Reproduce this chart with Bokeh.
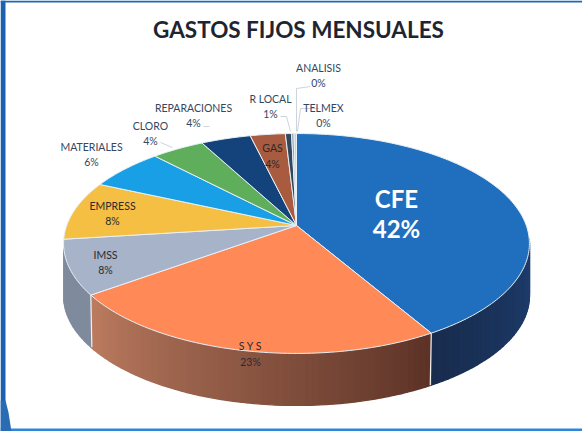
import math
from bokeh.plotting import figure
from bokeh.models import Range1d
from bokeh.core.properties import value
from bokeh.embed import file_html
from bokeh.resources import INLINE

# ---- data (clockwise from 12 o'clock)
categories = ["CFE", "S Y S", "IMSS", "EMPRESS", "MATERIALES", "CLORO",
              "REPARACIONES", "GAS", "R LOCAL", "ANALISIS", "TELMEX"]
shares = [41.6, 23.4, 8.0, 8.7, 6.2, 4.3, 4.05, 2.85, 0.5, 0.2, 0.2]
pct_labels = ["42%", "23%", "8%", "8%", "6%", "4%", "4%", "4%", "1%", "0%", "0%"]
title_text = "GASTOS FIJOS MENSUALES"

# ---- styles
top_colors = ["#1F6FBE", "#FF8A58", "#A6B3C8", "#F4BF42", "#189FE6", "#5FAE5C",
              "#14437C", "#A85B3E", "#33475C", "#8FA3B5", "#C9D3DC"]
side_from = ["#1E3F70", "#BC7C60", "#7F8B9D", "#B08A30", "#127AAF", "#47844A",
             "#0F3260", "#7E442E", "#263645", "#6C7B89", "#98A0A6"]
side_to = ["#182C4E", "#5C3226", "#7F8B9D", "#B08A30", "#127AAF", "#47844A",
           "#0F3260", "#7E442E", "#263645", "#6C7B89", "#98A0A6"]
CX, CY, A, B, K, DEPTH = 296.0, 225.0, 229.8, 107.0, 0.1635, 52.0


def project(theta_deg, r=1.0):
    t = math.radians(theta_deg)
    u, v = r * math.sin(t), r * math.cos(t)
    w = 1 + K * v
    return CX + A * u / w, CY - B * v / w


def mix(c1, c2, f):
    a = [int(c1[i:i + 2], 16) for i in (1, 3, 5)]
    b = [int(c2[i:i + 2], 16) for i in (1, 3, 5)]
    return "#%02x%02x%02x" % tuple(round(a[i] + (b[i] - a[i]) * f) for i in range(3))


p = figure(width=582, height=431, output_backend="svg", toolbar_location=None,
           x_range=Range1d(0, 582), y_range=Range1d(431, 0),
           min_border=0, outline_line_color=None)
p.axis.visible = False
p.grid.visible = False
p.background_fill_color = "white"
p.border_fill_color = "white"

# slide frame
p.quad(left=[0], right=[5], top=[0], bottom=[431], fill_color="#1A62B0", line_color=None)
p.quad(left=[0], right=[582], top=[0], bottom=[2], fill_color="#1A68B8", line_color=None)
p.quad(left=[0], right=[582], top=[428], bottom=[431], fill_color="#2E86DC", line_color=None)
p.patch([0, 5, 8, 11, 0], [400, 400, 412, 431, 431], fill_color="#2A6CB4", line_color=None)

total = sum(shares)
edges = [0.0]
for s in shares:
    edges.append(edges[-1] + s / total * 360.0)

# side wall, only where the rim faces the viewer
for i in range(len(shares)):
    a0, a1 = edges[i], edges[i + 1]
    a0v, a1v = max(a0, 97.0), min(a1, 258.0)
    if a1v <= a0v:
        continue
    n = max(2, int((a1v - a0v) / 1.5))
    xs, ys, cols = [], [], []
    for j in range(n):
        t0 = a0v + (a1v - a0v) * j / n
        t1 = a0v + (a1v - a0v) * (j + 1) / n
        x0, y0 = project(t0)
        x1, y1 = project(t1)
        xs.append([x0, x1, x1, x0])
        ys.append([y0, y1, y1 + DEPTH, y0 + DEPTH])
        f = (a1v - (t0 + t1) / 2) / (a1v - a0v)
        cols.append(mix(side_from[i], side_to[i], f) if i != 0 else mix(side_to[i], side_from[i], f))
    p.patches(xs, ys, fill_color=cols, line_color=cols, line_width=1.4)

# white seams on the wall
for t in (edges[1], edges[2]):
    x, y = project(t)
    p.line([x, x + (1 if t > 180 else -1)], [y, y + DEPTH], line_color="#F2F2F2", line_width=1.2)

# top faces
for i in range(len(shares)):
    a0, a1 = edges[i], edges[i + 1]
    n = max(2, int((a1 - a0) / 1.0))
    pts = [project(a0 + (a1 - a0) * j / n) for j in range(n + 1)]
    xs = [CX] + [q[0] for q in pts]
    ys = [CY] + [q[1] for q in pts]
    p.patch(xs, ys, fill_color=top_colors[i], line_color="#E8F0F6", line_width=1.0)

# leader lines
leaders = [([310, 296, 296], [86, 88, 131]), ([318, 300, 297], [108, 108, 131]),
           ([280, 286, 290], [116, 116, 131]), ([203, 209], [126, 126]),
           ([160, 172], [142, 147])]
for lx, ly in leaders:
    p.line(lx, ly, line_color="#B8C2CC", line_width=0.7)

# title
p.text([298], [29], text=[title_text], text_font=value("Lato"), text_font_style="bold",
       text_font_size="22.5px", text_color="#1E2530", text_align="center", text_baseline="middle")

# data labels: name line, percentage line
small_pos = {"S Y S": (250, 345, 361), "IMSS": (105, 254, 269), "EMPRESS": (112, 205, 220),
             "MATERIALES": (91, 146, 161), "CLORO": (150, 125, 140),
             "REPARACIONES": (193, 107, 122), "GAS": (272, 147, 163),
             "R LOCAL": (270, 98, 113), "ANALISIS": (318, 67, 82), "TELMEX": (323, 107, 122)}
for name, pct in zip(categories, pct_labels):
    if name == "CFE":
        p.text([396], [198], text=[name], text_font=value("Lato"), text_font_style="bold",
               text_font_size="24px", text_color="white", text_align="center", text_baseline="middle")
        p.text([396], [228], text=[pct], text_font=value("Lato"), text_font_style="bold",
               text_font_size="24px", text_color="white", text_align="center", text_baseline="middle")
        continue
    x, y1, y2 = small_pos[name]
    inner = name in ("S Y S", "IMSS", "EMPRESS", "GAS")
    col = "#2A2A30" if inner else "#33475F"
    size = "10.5px"
    p.text([x], [y1], text=[name], text_font=value("Lato"), text_font_size=size,
           text_color=col, text_align="center", text_baseline="middle")
    p.text([x], [y2], text=[pct], text_font=value("Lato"), text_font_size=size,
           text_color=col, text_align="center", text_baseline="middle")

open("out.html", "w").write(file_html(p, INLINE))
